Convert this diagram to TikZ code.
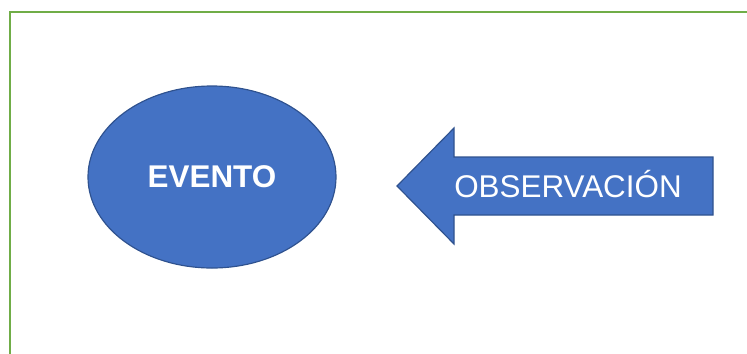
\documentclass[tikz,border=0pt]{standalone}
\usepackage{fontspec}
\setmainfont{Liberation Sans}
\usetikzlibrary{shapes.geometric}

\definecolor{frameGreen}{HTML}{70AD47}
\definecolor{shapeBlue}{HTML}{4472C4}
\definecolor{shapeBorder}{HTML}{2F528F}

\begin{document}
\begin{tikzpicture}[x=0.03cm, y=-0.03cm]
		%picture size and clipping
		\useasboundingbox (0,0) rectangle (747,353);
		\clip (0,0) rectangle (747,353);
		
		%green frame, running out at the right and at the bottom
		\draw [line width=0.075cm, frameGreen] (10,400) -- (10,12) -- (800,12) -- (800,400);
		
		%event
		\node (evento) [ellipse, draw=shapeBorder, line width=1pt, fill=shapeBlue, inner sep=0pt, minimum width=7.44cm, minimum height=5.46cm, text=white, font=\bfseries\fontsize{26.8}{30}\selectfont] at (212,177) {EVENTO};
		
		%arrow pointing at the event
		\filldraw [draw=shapeBorder, line width=1pt, fill=shapeBlue, line join=miter] (397,186) -- (454,128) -- (454,157) -- (713,157) -- (713,215) -- (454,215) -- (454,244) -- cycle;
		\node (obs) [anchor=base, text=white, inner sep=0pt, font=\fontsize{26.8}{30}\selectfont] at (568,197) {OBSERVACIÓN};
	\end{tikzpicture}
\end{document}
